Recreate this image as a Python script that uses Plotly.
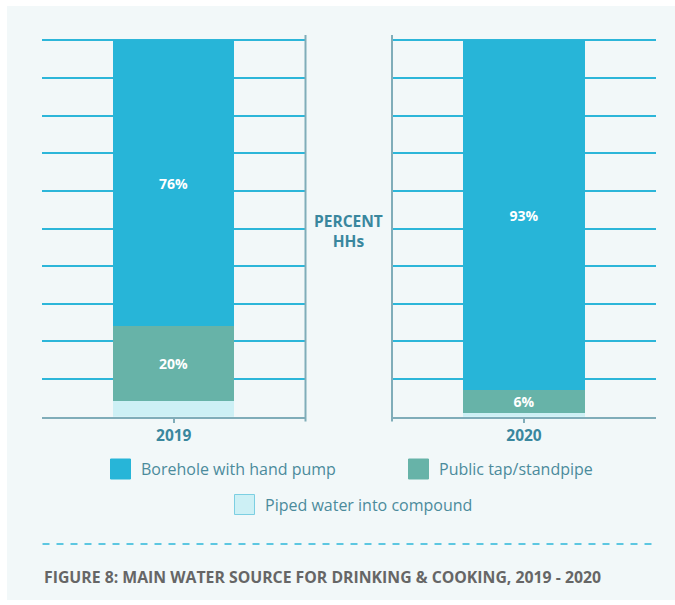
import plotly.graph_objects as go

# ---- data -------------------------------------------------------------
years = ["2019", "2020"]
series_names = ["Piped water into compound", "Public tap/standpipe", "Borehole with hand pump"]
piped = [4, 1]
public_tap = [20, 6]
borehole = [76, 93]
show_label = [False, True, True]  # which series get a value label in the bar

# ---- style ------------------------------------------------------------
W, H = 675, 605
FONT = "Open Sans"
C_BORE = "#27B5D8"
C_TAP = "#67B3A8"
C_PIPED = "#CDF0F5"
C_GRID = "#2DB6D9"
C_AXIS = "#80ADB9"
C_TEAL_TXT = "#3A879E"
C_LEGEND_TXT = "#4B8B9C"
C_CAPTION = "#666666"
PANEL_BG = "#F2F8F9"

colors = [C_PIPED, C_TAP, C_BORE]
values = [piped, public_tap, borehole]


def px(x):
    return x / W


def py(y):
    return 1 - y / H


fig = go.Figure()

# one stacked bar per year, each in its own small panel
for yi, year in enumerate(years):
    xa = "x" if yi == 0 else "x2"
    ya = "y" if yi == 0 else "y2"
    for si, name in enumerate(series_names):
        v = values[si][yi]
        fig.add_trace(go.Bar(
            x=[year], y=[v], name=name,
            marker=dict(color=colors[si], line=dict(width=0)),
            width=0.46,
            text=[f"{v}%"] if show_label[si] else [""],
            textposition="inside", insidetextanchor="middle",
            textfont=dict(family=FONT, size=14, color="white", weight="bold"),
            showlegend=False, hoverinfo="skip",
            xaxis=xa, yaxis=ya,
        ))

# small headroom so the 100 gridline is drawn at the top edge
Y_MAX = 100.3
ydom = [py(416.7), py(40.3 - 0.3 * 3.764)]
xcommon = dict(
    type="category", showgrid=False, showline=True, linecolor=C_AXIS, linewidth=2,
    ticks="outside", ticklen=4, tickwidth=1.5, tickcolor=C_AXIS,
    tickfont=dict(family=FONT, size=15.5, color=C_TEAL_TXT, weight="bold"),
    fixedrange=True, zeroline=False,
)
ycommon = dict(
    range=[0, Y_MAX], dtick=10, tick0=0, showgrid=True, gridcolor=C_GRID, gridwidth=1.5,
    showticklabels=False, zeroline=False, showline=False, domain=ydom, fixedrange=True,
)

fig.update_layout(
    width=W, height=H,
    margin=dict(l=0, r=0, t=0, b=0),
    paper_bgcolor="white", plot_bgcolor="rgba(0,0,0,0)",
    barmode="stack", bargap=0,
    uniformtext=dict(minsize=14, mode="show"),
    font=dict(family=FONT),
    xaxis=dict(domain=[px(42), px(305.5)], anchor="y", **xcommon),
    xaxis2=dict(domain=[px(392), px(656)], anchor="y2", **xcommon),
    yaxis=dict(anchor="x", **ycommon),
    yaxis2=dict(anchor="x2", **ycommon),
)

shapes = []
# light panel behind everything
shapes.append(dict(type="rect", xref="paper", yref="paper", layer="below",
                   x0=px(7), x1=1, y0=py(600), y1=py(6),
                   fillcolor=PANEL_BG, line=dict(width=0)))
# vertical axis rules framing the centre label
for xv in (305.5, 392):
    shapes.append(dict(type="line", xref="paper", yref="paper", layer="above",
                       x0=px(xv), x1=px(xv), y0=py(421.5), y1=py(35),
                       line=dict(color=C_AXIS, width=2)))
# dashed separator above the caption
shapes.append(dict(type="line", xref="paper", yref="paper",
                   x0=px(42.5), x1=px(656), y0=py(544), y1=py(544),
                   line=dict(color=C_GRID, width=1.5, dash="7px,7px")))

annotations = [
    dict(text="<b>PERCENT<br>HHs</b>", xref="paper", yref="paper",
         x=px(348.5), y=py(231), xanchor="center", yanchor="middle", showarrow=False,
         align="center", font=dict(family=FONT, size=15.5, color=C_TEAL_TXT)),
    dict(text="<b>FIGURE 8: MAIN WATER SOURCE FOR DRINKING &amp; COOKING, 2019 - 2020</b>",
         xref="paper", yref="paper", x=px(41.5), y=py(577), xanchor="left", yanchor="middle",
         showarrow=False, font=dict(family=FONT, size=15.8, color=C_CAPTION)),
]

# legend: coloured squares with labels
legend_items = [
    (series_names[2], C_BORE, 110.5, 469),
    (series_names[1], C_TAP, 408.5, 469),
    (series_names[0], C_PIPED, 234.5, 504.5),
]
for name, col, lx, ly in legend_items:
    border = "#7CCFE2" if col == C_PIPED else col
    shapes.append(dict(type="rect", xref="paper", yref="paper",
                       x0=px(lx), x1=px(lx + 20), y0=py(ly + 10), y1=py(ly - 10),
                       fillcolor=col, line=dict(color=border, width=1)))
    annotations.append(dict(text=name, xref="paper", yref="paper",
                            x=px(lx + 28), y=py(ly), xanchor="left", yanchor="middle",
                            showarrow=False,
                            font=dict(family=FONT, size=16, color=C_LEGEND_TXT)))

fig.update_layout(shapes=shapes, annotations=annotations)

fig.write_html("out.html")
